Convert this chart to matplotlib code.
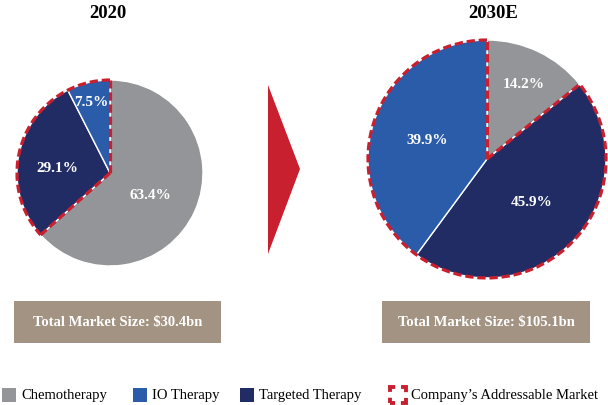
import numpy as np
import matplotlib.pyplot as plt
from matplotlib.patches import Arc, Rectangle, Polygon

plt.rcParams['font.family'] = ['Liberation Serif', 'DejaVu Serif']

W, H = 608, 406

segments = ['Chemotherapy', 'Targeted Therapy', 'IO Therapy']
share_2020 = [63.4, 29.1, 7.5]
share_2030 = [14.2, 45.9, 39.9]
years = ['2020', '2030E']
totals = ['Total Market Size: $30.4bn', 'Total Market Size: $105.1bn']
legend_names = ['Chemotherapy', 'IO Therapy', 'Targeted Therapy']

colors = {'Chemotherapy': '#939598', 'IO Therapy': '#2a5caa',
          'Targeted Therapy': '#212c64'}
red = '#c8202f'
box_col = '#a39382'

fig = plt.figure(figsize=(W / 100, H / 100), dpi=100)
ax = fig.add_axes([0, 0, 1, 1])


def Y(y):
    # pixel row (from top) -> data y
    return H - y


def draw_pie(values, cx, cy, r, label_pos):
    wedges, _ = ax.pie(values, colors=[colors[s] for s in segments],
                       startangle=90, counterclock=False, center=(cx, Y(cy)),
                       radius=r, frame=True,
                       wedgeprops=dict(edgecolor='white', linewidth=1))
    for (lx, ly), v in zip(label_pos, values):
        ax.text(lx, Y(ly), f'{v}%', color='white', fontsize=11,
                fontweight='bold', ha='center', va='center')
    # addressable market outline: targeted + IO
    t1 = wedges[2].theta1
    t2 = wedges[1].theta2
    dash = (0, (2.6, 1.2))
    ax.add_patch(Arc((cx, Y(cy)), 2 * r, 2 * r, theta1=t1, theta2=t2,
                     color=red, lw=2.3, linestyle=dash, zorder=5))
    for t in (t1, t2):
        a = np.deg2rad(t)
        ax.plot([cx, cx + r * np.cos(a)], [Y(cy), Y(cy) + r * np.sin(a)],
                color=red, lw=2.3, linestyle=dash, zorder=5)


draw_pie(share_2020, 110, 174, 93, [(150, 196), (57, 169), (91, 102)])
draw_pie(share_2030, 487, 160, 119, [(524, 85), (532, 203), (427, 141)])

ax.set_xlim(0, W)
ax.set_ylim(0, H)
ax.set_aspect('equal')
ax.axis('off')

# titles
ax.text(108, Y(14), years[0], fontsize=13.5, fontweight='bold', ha='center', va='center')
ax.text(493, Y(14), years[1], fontsize=13.5, fontweight='bold', ha='center', va='center')

# arrow
ax.add_patch(Polygon([(268, Y(86)), (300, Y(170)), (268, Y(255))],
                     closed=True, color=red, lw=0))

# total boxes
for (x0, x1), txt in zip([(14, 221), (382, 590)], totals):
    ax.add_patch(Rectangle((x0, Y(344)), x1 - x0, 42, color=box_col, lw=0))
    ax.text((x0 + x1) / 2, Y(323), txt, color='white', fontsize=10.5,
            fontweight='bold', ha='center', va='center')

# legend
leg_y = 396
for x, name in zip([2, 133, 240], legend_names):
    ax.add_patch(Rectangle((x, Y(leg_y + 7)), 14, 14, color=colors[name], lw=0))
    ax.text(x + 19, Y(leg_y), name, fontsize=10.5, ha='left', va='center')
# corner-only dashed square
ax.add_patch(Rectangle((390, Y(404)), 16, 16, fill=False, edgecolor=red,
                       lw=2.8, joinstyle='miter', capstyle='butt',
                       linestyle=(1.3, (2.6, 1.5))))
ax.text(411, Y(leg_y), "Company\u2019s Addressable Market", fontsize=10.5,
        ha='left', va='center')

fig.savefig('out.png', dpi=100)
